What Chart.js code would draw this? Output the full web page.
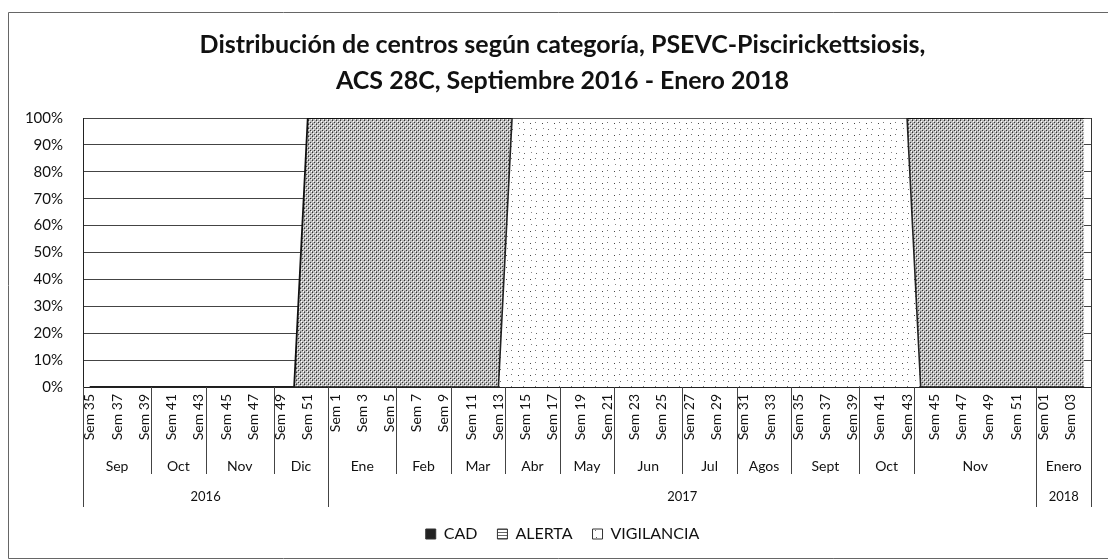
<!DOCTYPE html>
<html lang="es">
<head>
<meta charset="utf-8">
<title>Distribución de centros según categoría</title>
<script src="https://cdn.jsdelivr.net/npm/chart.js@4.4.1/dist/chart.umd.min.js"></script>
<style>
  html, body { margin: 0; padding: 0; background: #fff; }
  #wrap { width: 1108px; height: 560px; }
</style>
</head>
<body>
<div id="wrap"><canvas id="chart" width="1108" height="560"></canvas></div>
<script>
// semanas (categorías)
const weekLabels = [
  'Sem 35', 'Sem 36', 'Sem 37', 'Sem 38', 'Sem 39', 'Sem 40', 'Sem 41', 'Sem 42', 'Sem 43',
  'Sem 44', 'Sem 45', 'Sem 46', 'Sem 47', 'Sem 48', 'Sem 49', 'Sem 50', 'Sem 51', 'Sem 52',
  'Sem 1', 'Sem 2', 'Sem 3', 'Sem 4', 'Sem 5', 'Sem 6', 'Sem 7', 'Sem 8', 'Sem 9', 'Sem 10',
  'Sem 11', 'Sem 12', 'Sem 13', 'Sem 14', 'Sem 15', 'Sem 16', 'Sem 17', 'Sem 18', 'Sem 19',
  'Sem 20', 'Sem 21', 'Sem 22', 'Sem 23', 'Sem 24', 'Sem 25', 'Sem 26', 'Sem 27', 'Sem 28',
  'Sem 29', 'Sem 30', 'Sem 31', 'Sem 32', 'Sem 33', 'Sem 34', 'Sem 35', 'Sem 36', 'Sem 37',
  'Sem 38', 'Sem 39', 'Sem 40', 'Sem 41', 'Sem 42', 'Sem 43', 'Sem 44', 'Sem 45', 'Sem 46',
  'Sem 47', 'Sem 48', 'Sem 49', 'Sem 50', 'Sem 51', 'Sem 52',
  'Sem 01', 'Sem 02', 'Sem 03', 'Sem 04'
];

// agrupación del eje: meses y años (nº de semanas de cada uno)
const monthNames = ['Sep', 'Oct', 'Nov', 'Dic', 'Ene', 'Feb', 'Mar', 'Abr', 'May', 'Jun', 'Jul', 'Agos', 'Sept', 'Oct', 'Nov', 'Enero'];
const monthWeeks = [5, 4, 5, 4, 5, 4, 4, 4, 4, 5, 4, 4, 5, 4, 9, 4];
const yearNames = ['2016', '2017', '2018'];
const yearWeeks = [18, 52, 4];

// % de centros por categoría, una fila por mes
const cad = [
  0, 0, 0, 0, 0,            // Sep 2016
  0, 0, 0, 0,               // Oct
  0, 0, 0, 0, 0,            // Nov
  0, 0, 100, 100,           // Dic
  100, 100, 100, 100, 100,  // Ene 2017
  100, 100, 100, 100,       // Feb
  100, 100, 100, 100,       // Mar
  0, 0, 0, 0,               // Abr
  0, 0, 0, 0,               // May
  0, 0, 0, 0, 0,            // Jun
  0, 0, 0, 0,               // Jul
  0, 0, 0, 0,               // Agos
  0, 0, 0, 0, 0,            // Sept
  0, 0, 0, 0,               // Oct
  100, 100, 100, 100, 100, 100, 100, 100, 100, // Nov
  100, 100, 100, 100        // Enero 2018
];
const alerta = [
  100, 100, 100, 100, 100,
  100, 100, 100, 100,
  100, 100, 100, 100, 100,
  100, 100, 0, 0,
  0, 0, 0, 0, 0,
  0, 0, 0, 0,
  0, 0, 0, 0,
  0, 0, 0, 0,
  0, 0, 0, 0,
  0, 0, 0, 0, 0,
  0, 0, 0, 0,
  0, 0, 0, 0,
  0, 0, 0, 0, 0,
  0, 0, 0, 0,
  0, 0, 0, 0, 0, 0, 0, 0, 0,
  0, 0, 0, 0
];
const vigilancia = [
  0, 0, 0, 0, 0,
  0, 0, 0, 0,
  0, 0, 0, 0, 0,
  0, 0, 0, 0,
  0, 0, 0, 0, 0,
  0, 0, 0, 0,
  0, 0, 0, 0,
  100, 100, 100, 100,
  100, 100, 100, 100,
  100, 100, 100, 100, 100,
  100, 100, 100, 100,
  100, 100, 100, 100,
  100, 100, 100, 100, 100,
  100, 100, 100, 100,
  0, 0, 0, 0, 0, 0, 0, 0, 0,
  0, 0, 0, 0
];

const titleLines = [
  'Distribución de centros según categoría, PSEVC-Piscirickettsiosis,',
  'ACS 28C, Septiembre 2016 - Enero 2018'
];
const legendOrder = ['CAD', 'ALERTA', 'VIGILANCIA'];

// tramas tipo Excel
function makePattern(size, paint) {
  const c = document.createElement('canvas');
  c.width = size; c.height = size;
  const g = c.getContext('2d');
  paint(g);
  return g.createPattern(c, 'repeat');
}
function dot(g, color, x, y) { g.fillStyle = color; g.fillRect(x, y, 1, 1); }

const cadFill = makePattern(4, g => {
  g.fillStyle = '#bdbdbd'; g.fillRect(0, 0, 4, 4);
  [[0, 0], [2, 2]].forEach(p => dot(g, '#333', p[0], p[1]));
  dot(g, '#777', 0, 3);
  [[1, 1], [3, 3]].forEach(p => dot(g, '#fff', p[0], p[1]));
});
const vigFill = makePattern(12, g => {
  g.fillStyle = '#fff'; g.fillRect(0, 0, 12, 12);
  dot(g, '#444', 2, 3);
  dot(g, '#666', 8, 9);
  dot(g, '#777', 7, 2);
  dot(g, '#888', 3, 8);
});
const alertaBox = makePattern(3, g => {
  g.fillStyle = '#fff'; g.fillRect(0, 0, 3, 3);
  g.fillStyle = '#666'; g.fillRect(0, 1, 3, 1);
});

// filas de meses / años bajo el eje y marcos
const groupRows = {
  id: 'groupRows',
  afterDraw(chart) {
    const x = chart.scales.x;
    const ctx = chart.ctx;
    const n = weekLabels.length;
    const edge = i => i <= 0 ? x.left : i >= n ? x.right
      : (x.getPixelForValue(i - 1) + x.getPixelForValue(i)) / 2;

    ctx.save();
    ctx.strokeStyle = '#444';
    ctx.lineWidth = 1;
    ctx.fillStyle = '#111';
    ctx.textAlign = 'center';
    ctx.textBaseline = 'middle';

    function row(names, counts, lineLen, textY, font) {
      ctx.font = font;
      let start = 0;
      names.forEach((name, k) => {
        const end = start + counts[k];
        const a = Math.round(edge(start)) + 0.5;
        ctx.beginPath(); ctx.moveTo(a, x.top); ctx.lineTo(a, x.top + lineLen); ctx.stroke();
        ctx.fillText(name, (edge(start) + edge(end)) / 2, x.top + textY);
        start = end;
      });
      const b = Math.round(edge(n)) + 0.5;
      ctx.beginPath(); ctx.moveTo(b, x.top); ctx.lineTo(b, x.top + lineLen); ctx.stroke();
    }
    row(monthNames, monthWeeks, 87, 79, '14px Lato');
    row(yearNames, yearWeeks, 120, 110, '13px Lato');

    // borde derecho del área de trazado
    const ca = chart.chartArea;
    ctx.strokeStyle = '#333';
    ctx.beginPath();
    ctx.moveTo(Math.round(ca.right) + 0.5, ca.top);
    ctx.lineTo(Math.round(ca.right) + 0.5, ca.bottom);
    ctx.stroke();

    // marco exterior del gráfico
    ctx.strokeStyle = '#666';
    ctx.beginPath();
    ctx.moveTo(1108, 12.5); ctx.lineTo(8.5, 12.5); ctx.lineTo(8.5, 558.5); ctx.lineTo(1108, 558.5);
    ctx.stroke();
    ctx.restore();
  }
};

const ctx = document.getElementById('chart').getContext('2d');
new Chart(ctx, {
  type: 'line',
  data: {
    labels: weekLabels,
    datasets: [
      { label: 'VIGILANCIA', data: vigilancia, backgroundColor: vigFill, borderColor: '#222', borderWidth: 1.6, fill: 'origin', pointRadius: 0, tension: 0 },
      { label: 'CAD', data: cad, backgroundColor: cadFill, borderColor: '#111', borderWidth: 1.8, fill: '-1', pointRadius: 0, tension: 0 },
      { label: 'ALERTA', data: alerta, backgroundColor: 'rgba(255,255,255,0)', borderColor: 'rgba(0,0,0,0)', borderWidth: 0, fill: '-1', pointRadius: 0, tension: 0 }
    ]
  },
  options: {
    responsive: false,
    animation: false,
    layout: { padding: { left: 26, right: 9, top: 0, bottom: 10 } },
    plugins: {
      title: {
        display: true,
        text: titleLines,
        color: '#111',
        font: { family: 'Lato', size: 25, weight: 'bold', lineHeight: 1.44 },
        padding: { top: 27, bottom: 19 }
      },
      legend: {
        position: 'bottom',
        maxHeight: 44,
        labels: {
          boxWidth: 10,
          boxHeight: 10,
          padding: 20,
          color: '#111',
          font: { family: 'Lato', size: 16 },
          sort: (a, b) => legendOrder.indexOf(a.text) - legendOrder.indexOf(b.text),
          generateLabels(chart) {
            const items = Chart.defaults.plugins.legend.labels.generateLabels(chart);
            items.forEach(it => {
              it.strokeStyle = '#333';
              it.lineWidth = 1;
              if (it.text === 'CAD') it.fillStyle = '#222';
              if (it.text === 'ALERTA') it.fillStyle = alertaBox;
            });
            return items;
          }
        }
      },
      tooltip: { enabled: false }
    },
    scales: {
      x: {
        offset: true,
        grid: { display: false, drawTicks: false },
        border: { display: true, color: '#222' },
        ticks: {
          autoSkip: false,
          maxRotation: 90,
          minRotation: 90,
          padding: 7,
          color: '#111',
          font: { family: 'Lato', size: 14 },
          callback: function (val, i) { return i % 2 === 0 ? this.getLabelForValue(val) : ''; }
        },
        afterFit(scale) { scale.height = 119; }
      },
      y: {
        stacked: true,
        min: 0,
        max: 100,
        grid: { color: '#444', drawTicks: false },
        border: { display: true, color: '#222' },
        ticks: {
          stepSize: 10,
          padding: 20,
          color: '#111',
          font: { family: 'Lato', size: 15 },
          callback: v => v + '%'
        },
        afterFit(scale) { scale.width = 57; }
      }
    }
  },
  plugins: [groupRows]
});
</script>
</body>
</html>
